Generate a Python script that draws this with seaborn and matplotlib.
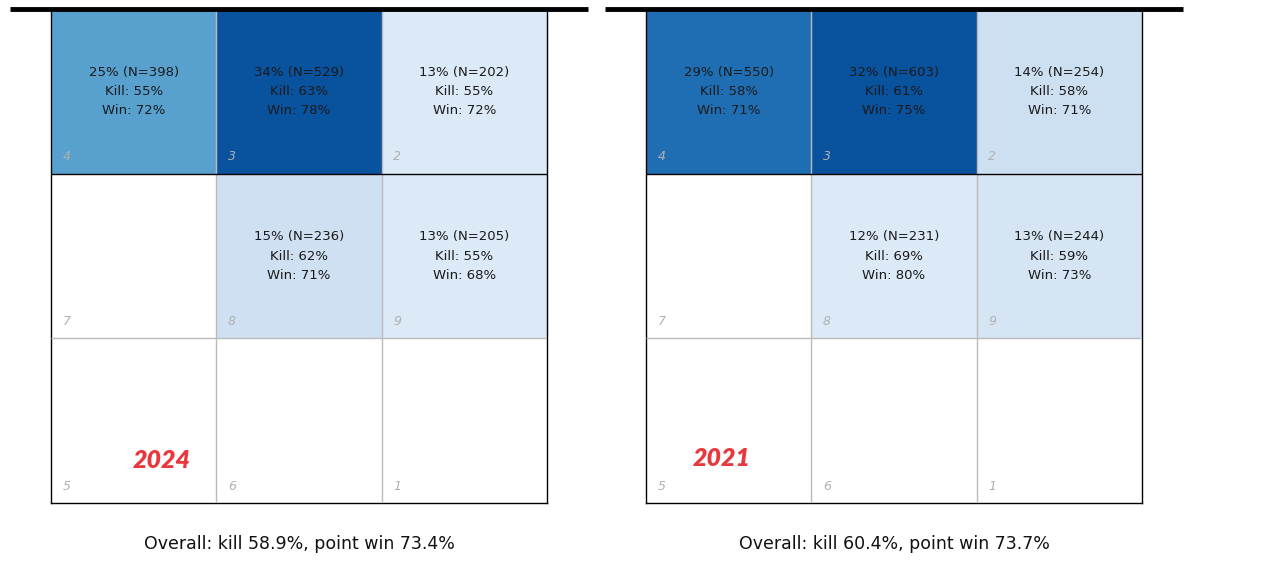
import numpy as np
import pandas as pd
import matplotlib
matplotlib.use("Agg")
import matplotlib.pyplot as plt
import matplotlib.colors as mcolors
import seaborn as sns

sns.set_theme(style="white")
plt.rcParams['font.family'] = ['DejaVu Sans']

# Zone layout (rows top->bottom, cols left->right)
zone_grid = [[4, 3, 2], [7, 8, 9], [5, 6, 1]]

# 2024 data by zone
zones_2024 = [4, 3, 2, 8, 9]
share_2024 = [25, 34, 13, 15, 13]
n_2024 = [398, 529, 202, 236, 205]
kill_2024 = [55, 63, 55, 62, 55]
win_2024 = [72, 78, 72, 71, 68]
overall_2024 = "Overall: kill 58.9%, point win 73.4%"

# 2021 data by zone
zones_2021 = [4, 3, 2, 8, 9]
share_2021 = [29, 32, 14, 12, 13]
n_2021 = [550, 603, 254, 231, 244]
kill_2021 = [58, 61, 58, 69, 59]
win_2021 = [71, 75, 71, 80, 73]
overall_2021 = "Overall: kill 60.4%, point win 73.7%"

years = ["2024", "2021"]
year_pos = [(0.67, 2.74), (0.46, 2.73)]

cmap = mcolors.ListedColormap(plt.cm.Blues(np.linspace(0.14, 0.87, 256)))

fig = plt.figure(figsize=(12.78, 5.68), dpi=100)
axes_pos = [[51 / 1278, 1 - 503 / 568, 496 / 1278, 494 / 568],
            [646 / 1278, 1 - 503 / 568, 496 / 1278, 494 / 568]]

datasets = [
    (zones_2024, share_2024, n_2024, kill_2024, win_2024, overall_2024),
    (zones_2021, share_2021, n_2021, kill_2021, win_2021, overall_2021),
]

for i, (zones, share, ns, kills, wins, overall) in enumerate(datasets):
    ax = fig.add_axes(axes_pos[i])
    lookup = {z: (s, n, k, w) for z, s, n, k, w in zip(zones, share, ns, kills, wins)}
    mat = np.full((3, 3), np.nan)
    for r in range(3):
        for c in range(3):
            z = zone_grid[r][c]
            if z in lookup:
                mat[r, c] = lookup[z][0]
    df = pd.DataFrame(mat)
    sns.heatmap(df, ax=ax, cmap=cmap, vmin=min(share), vmax=max(share),
                cbar=False, mask=np.isnan(mat), xticklabels=False,
                yticklabels=False, linewidths=0)
    ax.set_xlim(0, 3)
    ax.set_ylim(3, 0)
    # grid lines
    for x in [1, 2]:
        ax.vlines(x, 0, 3, color="#bbbbbb", lw=1.0, zorder=3)
    ax.hlines(2, 0, 3, color="#bbbbbb", lw=1.0, zorder=3)
    ax.hlines(1, 0, 3, color="black", lw=1.0, zorder=4)
    for s in ax.spines.values():
        s.set_visible(True)
        s.set_color("black")
        s.set_linewidth(1.0)
    ax.spines['top'].set_visible(False)
    # net line
    ax.plot([-0.25, 3.25], [0, 0], color="black", lw=3.5, clip_on=False,
            solid_capstyle="butt", zorder=5)
    for r in range(3):
        for c in range(3):
            z = zone_grid[r][c]
            ax.text(c + 0.07, r + 0.92, str(z), fontsize=9, style="italic",
                    color="#b0b0b0", ha="left", va="baseline", zorder=6)
            if z in lookup:
                s, n, k, w = lookup[z]
                ax.text(c + 0.5, r + 0.5,
                        f"{s}% (N={n})\nKill: {k}%\nWin: {w}%",
                        ha="center", va="center", fontsize=9.5,
                        color="#1a1a1a", linespacing=1.62, zorder=6)
    yx, yy = year_pos[i]
    ax.text(yx, yy, years[i], fontsize=18, fontweight="heavy", style="italic",
            family=["Lato", "DejaVu Sans"], color="#e8383d",
            ha="center", va="center", zorder=6)
    ax.text(1.5, 3.25, overall, ha="center", va="center", fontsize=12.5,
            color="#111111", clip_on=False)

fig.savefig("out.png", dpi=100, facecolor="white")
